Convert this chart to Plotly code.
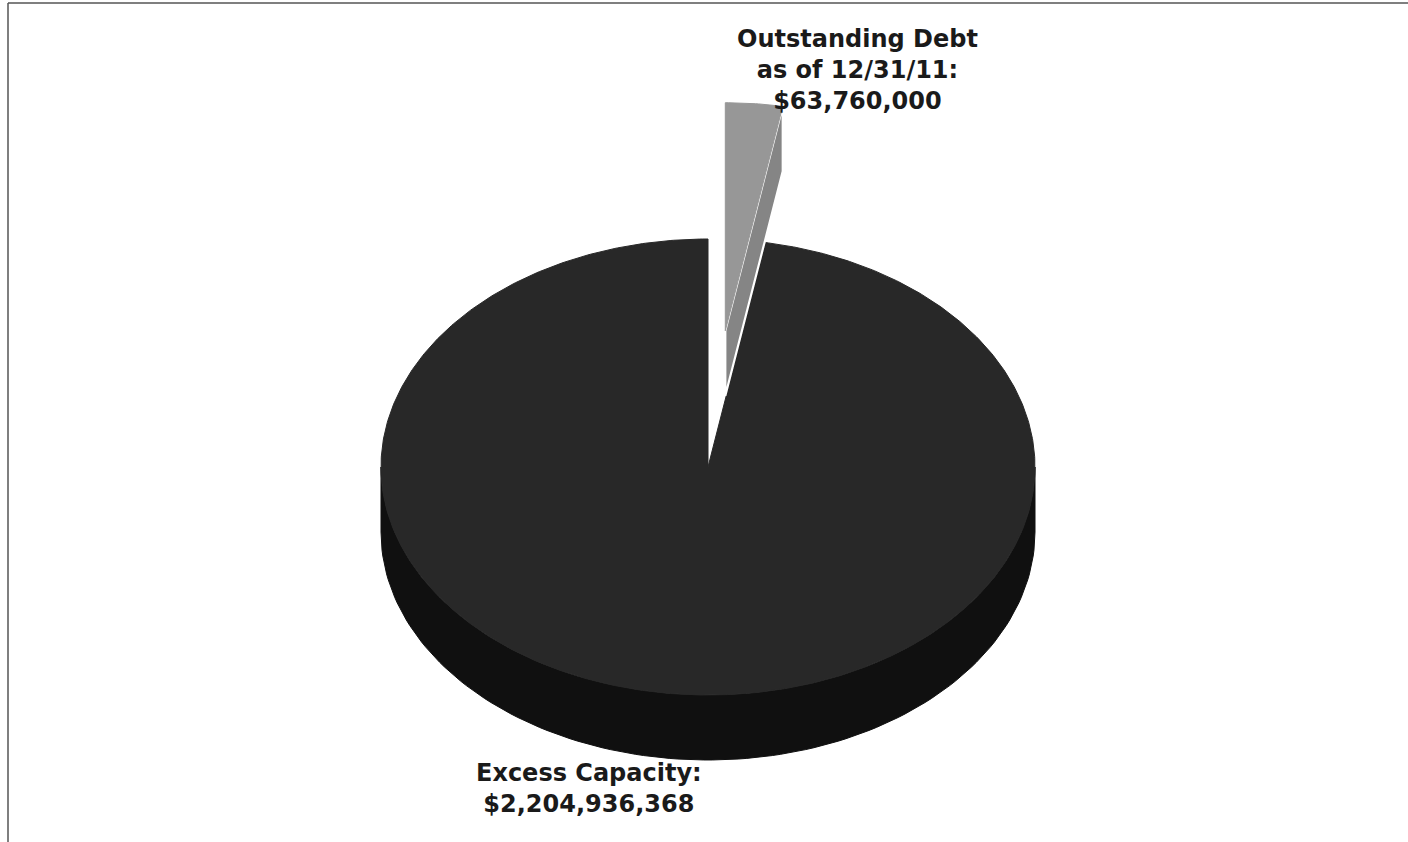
import numpy as np
import plotly.graph_objects as go

# ---- data ----
categories = ["Outstanding Debt as of 12/31/11", "Excess Capacity"]
values = [63760000, 2204936368]
label_lines = [["Outstanding Debt", "as of 12/31/11:", "$63,760,000"],
               ["Excess Capacity:", "$2,204,936,368"]]

# ---- styles ----
top_colors = ["#979797", "#282828"]
side_colors = ["#858585", "#101010"]
face_edge_colors = ["#ffffff", "#101010"]
pulls = [0.6, 0.0]
label_pos = [(857, 70), (589, 788)]

W, H = 1408, 842
CX, CY, RX, RY, DEPTH = 708, 467, 327, 228, 65


def pt(theta_deg, dx=0.0, dy=0.0, dz=0.0):
    t = np.radians(theta_deg)
    return CX + dx + RX * np.sin(t), CY + dy - RY * np.cos(t) + dz


total = float(sum(values))
fig = go.Figure()

starts = np.concatenate([[0.0], np.cumsum(values)[:-1]]) / total * 360.0
ends = np.cumsum(values) / total * 360.0

# draw the large slice first, then the exploded small one on top
order = sorted(range(len(values)), key=lambda i: -values[i])
for i in order:
    a0, a1 = starts[i], ends[i]
    am = np.radians((a0 + a1) / 2)
    dx = pulls[i] * RX * np.sin(am)
    dy = -pulls[i] * RY * np.cos(am)
    hover = f"{categories[i]}: ${values[i]:,.0f}"

    def add_poly(xs, ys, fillc, linec, lw=1.0):
        fig.add_trace(go.Scatter(x=xs, y=ys, mode="lines", fill="toself",
                                 fillcolor=fillc, line=dict(color=linec, width=lw),
                                 hoverinfo="text", text=hover, showlegend=False))

    # outer wall (front half visible)
    w0, w1 = max(a0, 90.0), min(a1, 270.0)
    if w1 > w0:
        th = np.linspace(w0, w1, 120)
        tx, ty = pt(th, dx, dy)
        bx, by = pt(th[::-1], dx, dy, DEPTH)
        add_poly(np.concatenate([tx, bx, tx[:1]]), np.concatenate([ty, by, ty[:1]]),
                 side_colors[i], side_colors[i])

    # radial faces
    faces = []
    if 0 < a1 % 360 < 180:
        faces.append(a1)
    if 180 < a0 % 360 < 360:
        faces.append(a0)
    for a in faces:
        ox, oy = pt(a, dx, dy)
        obx, oby = pt(a, dx, dy, DEPTH)
        px, py = CX + dx, CY + dy
        add_poly([px, ox, obx, px, px], [py, oy, oby, py + DEPTH, py],
                 side_colors[i], face_edge_colors[i], 2.2)

    # top face
    th = np.linspace(a0, a1, max(8, int((a1 - a0) * 2)))
    ax, ay = pt(th, dx, dy)
    xs = np.concatenate([[CX + dx], ax, [CX + dx]])
    ys = np.concatenate([[CY + dy], ay, [CY + dy]])
    add_poly(xs, ys, top_colors[i], top_colors[i], 1.0)

# labels
for lines, (lx, ly) in zip(label_lines, label_pos):
    fig.add_annotation(x=lx, y=ly, xref="x", yref="y",
                       text="<br>".join(f"<b>{s}</b>" for s in lines),
                       showarrow=False, align="center",
                       font=dict(family="DejaVu Sans", size=24, color="#1a1a1a"))

# frame lines (top and left) like the scanned original
fig.add_shape(type="line", x0=8, x1=W, y0=3, y1=3, xref="x", yref="y",
              line=dict(color="#555555", width=1.5))
fig.add_shape(type="line", x0=8, x1=8, y0=3, y1=H, xref="x", yref="y",
              line=dict(color="#555555", width=1.5))

fig.update_layout(
    width=W, height=H, margin=dict(l=0, r=0, t=0, b=0),
    paper_bgcolor="white", plot_bgcolor="white",
    xaxis=dict(range=[0, W], visible=False, fixedrange=True),
    yaxis=dict(range=[H, 0], visible=False, fixedrange=True),
    showlegend=False,
)

fig.write_html("out.html")
